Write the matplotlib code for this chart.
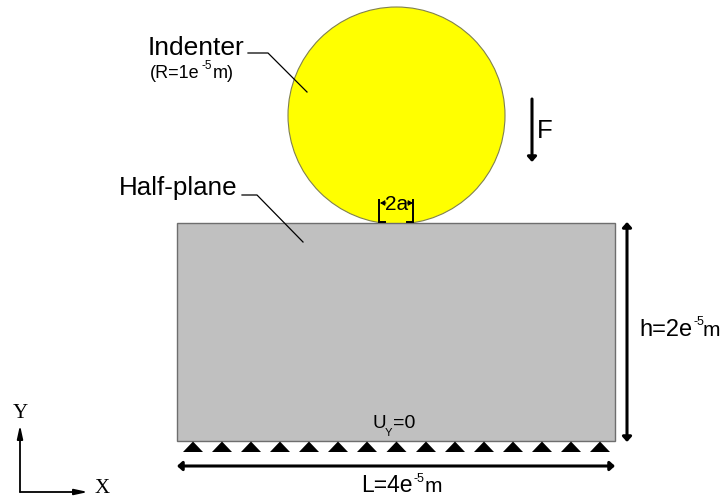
import matplotlib
matplotlib.use("Agg")
import matplotlib.pyplot as plt
from matplotlib.patches import Circle, Rectangle, Polygon, FancyArrowPatch

# Diagram geometry, in reference pixels
circle_center = (396.5, 115.5)
circle_radius = 108.5
plane_x = (177, 615)
plane_y = (223, 441)
support_x = [193, 222, 251, 280, 309, 338, 367, 396.5, 426, 455, 484, 513, 542, 571, 600]
support_y = (441.5, 452)
support_half = 10

indenter_leader = ([248, 268, 307], [53, 53, 92])
plane_leader = ([242, 257, 303], [195, 195, 242])
bracket_left = ([385, 379, 379], [222, 222, 200])
bracket_right = ([407, 413, 413], [222, 222, 200])

SANS = "Liberation Sans"
SERIF = "Liberation Serif"

# text, x, baseline y, size, family
labels = [
    ("Indenter", 148, 55, 19, SANS),
    ("(R=1e", 150, 78, 13, SANS),
    ("-5", 202, 69, 8.5, SANS),
    ("m)", 213, 78, 13, SANS),
    ("Half-plane", 119, 195, 18.7, SANS),
    ("F", 537, 138, 18.5, SANS),
    ("2a", 385, 210, 15, SANS),
    ("h=2e", 639, 336, 17, SANS),
    ("-5", 693, 325, 9, SANS),
    ("m", 703, 336, 15, SANS),
    ("L=4e", 361, 492, 16.5, SANS),
    ("-5", 413, 482, 9, SANS),
    ("m", 425, 492, 15, SANS),
    ("U", 372, 428, 13.5, SANS),
    ("Y", 385, 436, 8, SANS),
    ("=0", 393, 428, 14, SANS),
    ("Y", 13, 418, 15, SERIF),
    ("X", 95, 493, 15, SERIF),
]

# start, end, line width, arrow style, head scale
arrows = [
    ((532, 99), (532, 162), 2.2, "-|>,head_length=0.22,head_width=0.2", 13),
    ((627, 222), (627, 442), 2.2, "<|-|>,head_length=0.22,head_width=0.2", 13),
    ((177, 466), (615, 466), 2.2, "<|-|>,head_length=0.22,head_width=0.2", 13),
    ((20, 492), (20, 425), 1.3, "-|>,head_length=0.6,head_width=0.13", 13),
    ((20, 492), (88, 492), 1.3, "-|>,head_length=0.6,head_width=0.13", 13),
    ((386, 203), (380, 203), 0.7, "-|>,head_length=0.35,head_width=0.2", 8),
    ((407, 203), (413, 203), 0.7, "-|>,head_length=0.35,head_width=0.2", 8),
]

fig = plt.figure(figsize=(7.21, 4.97), dpi=100, facecolor="white")
ax = fig.add_axes([0, 0, 1, 1])
ax.set_xlim(0, 721)
ax.set_ylim(497, 0)
ax.axis("off")

ax.add_patch(Circle(circle_center, circle_radius, facecolor="#ffff00",
                    edgecolor="#808050", linewidth=0.8, zorder=1))
ax.add_patch(Rectangle((plane_x[0], plane_y[0]), plane_x[1] - plane_x[0],
                       plane_y[1] - plane_y[0], facecolor="#c0c0c0",
                       edgecolor="#6e6e6e", linewidth=1.0, zorder=2))

for x in support_x:
    ax.add_patch(Polygon([(x, support_y[0]), (x - support_half, support_y[1]),
                          (x + support_half, support_y[1])], closed=True,
                         facecolor="black", edgecolor="none", zorder=3))

for xs, ys in (indenter_leader, plane_leader):
    ax.plot(xs, ys, color="black", linewidth=0.9, zorder=4)
for xs, ys in (bracket_left, bracket_right):
    ax.plot(xs, ys, color="black", linewidth=1.4, solid_joinstyle="miter", zorder=4)

for start, end, lw, style, scale in arrows:
    ax.add_patch(FancyArrowPatch(start, end, arrowstyle=style, mutation_scale=scale,
                                 color="black", linewidth=lw, shrinkA=0, shrinkB=0,
                                 zorder=5))

for text, x, y, size, family in labels:
    ax.text(x, y, text, fontsize=size, family=family, ha="left", va="baseline",
            color="black", zorder=6)

fig.savefig("out.png", dpi=100, facecolor="white")
